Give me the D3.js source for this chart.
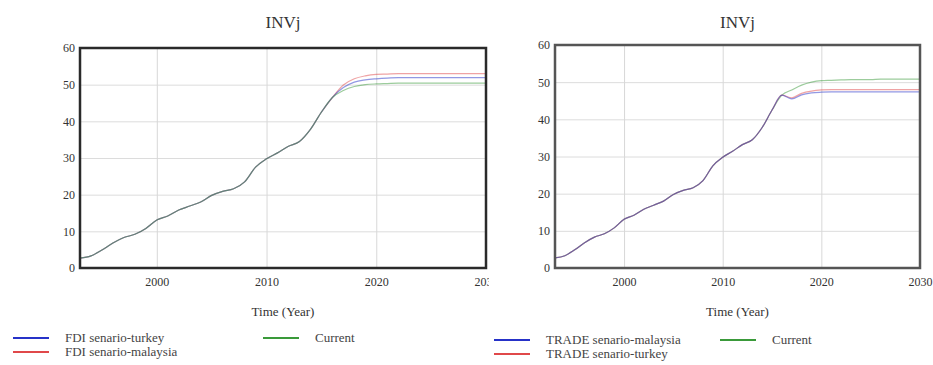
<!DOCTYPE html>
<html>
<head>
<meta charset="utf-8">
<script src="https://cdn.jsdelivr.net/npm/d3@7"></script>
<style>
  body { margin: 0; background: #fff; }
  text { font-family: "Liberation Serif", "DejaVu Serif", serif; fill: #333; }
</style>
</head>
<body>
<svg id="chart" width="933" height="365"></svg>
<script>
// years on the x axis, 1993 .. 2030
const years = [1993, 1994, 1995, 1996, 1997, 1998, 1999, 2000, 2001, 2002,
               2003, 2004, 2005, 2006, 2007, 2008, 2009, 2010, 2011, 2012,
               2013, 2014, 2015, 2016, 2017, 2018, 2019, 2020, 2021, 2022,
               2023, 2024, 2025, 2026, 2027, 2028, 2029, 2030];

// history part, shared by every run (1993 .. 2016)
const history = [2.7, 3.3, 4.9, 6.8, 8.3, 9.2, 10.8, 13.1, 14.2, 15.8,
                 16.9, 18.0, 19.8, 20.9, 21.6, 23.5, 27.5, 29.8, 31.4, 33.2,
                 34.5, 37.8, 42.5, 46.5];

// left panel runs, 2017 .. 2030
const fdiTurkey   = [49.2, 50.7, 51.3, 51.6, 51.8, 51.9, 51.9, 51.9, 51.9, 51.9, 51.9, 51.9, 51.9, 51.9];
const fdiMalaysia = [49.9, 51.6, 52.4, 52.8, 52.9, 53.0, 53.0, 53.0, 53.0, 53.0, 53.0, 53.0, 53.0, 53.0];
const fdiCurrent  = [48.4, 49.5, 50.0, 50.2, 50.3, 50.4, 50.4, 50.4, 50.4, 50.4, 50.4, 50.4, 50.4, 50.4];

// right panel runs, 2017 .. 2030
const tradeMalaysia = [45.5, 46.6, 47.1, 47.3, 47.4, 47.4, 47.4, 47.4, 47.4, 47.4, 47.4, 47.4, 47.4, 47.4];
const tradeTurkey   = [45.8, 47.0, 47.6, 47.9, 48.0, 48.0, 48.0, 48.0, 48.0, 48.0, 48.0, 48.0, 48.0, 48.0];
const tradeCurrent  = [47.9, 49.2, 50.0, 50.4, 50.5, 50.6, 50.7, 50.7, 50.7, 50.8, 50.8, 50.8, 50.8, 50.8];

const yTicks = [0, 10, 20, 30, 40, 50, 60];
const xTicks = [2000, 2010, 2020, 2030];

const serif = '"Liberation Serif", "DejaVu Serif", serif';
const svg = d3.select('#chart');

function drawPanel(p) {
  const g = svg.append('g');

  // panel background (the right picture sits on top of the left one)
  g.append('rect')
    .attr('x', p.bg[0]).attr('y', 0)
    .attr('width', p.bg[1] - p.bg[0]).attr('height', 365)
    .style('fill', '#fff');

  const x = d3.scaleLinear().domain([1993, 2030]).range([p.left, p.right]);
  const y = d3.scaleLinear().domain([0, 60]).range([p.bottom, p.top]);

  /************ grid ************/
  g.append('g')
    .attr('transform', `translate(${p.left}, 0)`)
    .call(d3.axisLeft(y).tickValues(yTicks).tickSize(-(p.right - p.left)).tickFormat(''))
    .call(a => a.select('.domain').remove())
    .selectAll('line').style('stroke', '#dcdcdc');

  g.append('g')
    .attr('transform', `translate(0, ${p.bottom})`)
    .call(d3.axisBottom(x).tickValues(xTicks.slice(0, 3)).tickSize(-(p.bottom - p.top)).tickFormat(''))
    .call(a => a.select('.domain').remove())
    .selectAll('line').style('stroke', '#d8d8d8');

  /************ tick labels ************/
  g.append('g')
    .attr('transform', `translate(${p.left}, 0)`)
    .call(d3.axisLeft(y).tickValues(yTicks).tickSize(0).tickPadding(5))
    .attr('font-family', serif)
    .attr('font-size', 12)
    .call(a => a.select('.domain').remove())
    .selectAll('text')
    .attr('fill', '#444');

  g.append('g')
    .attr('transform', `translate(0, ${p.bottom})`)
    .call(d3.axisBottom(x).tickValues(xTicks).tickSize(0).tickPadding(9).tickFormat(d3.format('d')))
    .attr('font-family', serif)
    .attr('font-size', 12)
    .call(a => a.select('.domain').remove())
    .selectAll('text')
    .attr('fill', '#444');

  /************ lines ************/
  const line = d3.line()
    .x((d, i) => x(years[i]))
    .y(d => y(d))
    .curve(d3.curveMonotoneX);

  p.series.forEach(s => {
    g.append('path')
      .datum(history.concat(s.values))
      .attr('d', line)
      .style('fill', 'none')
      .style('stroke', s.color)
      .style('stroke-width', 1.2)
      .style('stroke-opacity', 0.5);
  });

  /************ frame ************/
  g.append('rect')
    .attr('x', p.left).attr('y', p.top)
    .attr('width', p.right - p.left).attr('height', p.bottom - p.top)
    .style('fill', 'none')
    .style('stroke', p.frame)
    .style('stroke-width', 2.5);

  /************ titles ************/
  g.append('text')
    .attr('x', (p.left + p.right) / 2)
    .attr('y', 28)
    .attr('text-anchor', 'middle')
    .style('font-size', '17px')
    .text('INVj');

  g.append('text')
    .attr('x', (p.left + p.right) / 2)
    .attr('y', 316)
    .attr('text-anchor', 'middle')
    .style('font-size', '13px')
    .text('Time (Year)');

  /************ legend ************/
  p.legend.forEach(l => {
    g.append('line')
      .attr('x1', l.x).attr('x2', l.x + 36)
      .attr('y1', l.y).attr('y2', l.y)
      .style('stroke', l.color)
      .style('stroke-width', 2);
    g.append('text')
      .attr('x', l.x + 52)
      .attr('y', l.y + 4)
      .style('font-size', '13px')
      .style('fill', '#444')
      .text(l.label);
  });
}

const blue = '#2632c8';
const red = '#e0484a';
const green = '#3a9a3a';

drawPanel({
  bg: [0, 489],
  left: 80, right: 486, top: 48, bottom: 268,
  frame: '#2a2a2a',
  series: [
    { values: fdiMalaysia, color: red },
    { values: fdiTurkey, color: blue },
    { values: fdiCurrent, color: green }
  ],
  legend: [
    { label: 'FDI senario-turkey', color: blue, x: 13, y: 338 },
    { label: 'FDI senario-malaysia', color: red, x: 13, y: 352 },
    { label: 'Current', color: green, x: 263, y: 338 }
  ]
});

drawPanel({
  bg: [489, 933],
  left: 555, right: 920, top: 45, bottom: 268,
  frame: '#555',
  series: [
    { values: tradeCurrent, color: green },
    { values: tradeTurkey, color: red },
    { values: tradeMalaysia, color: blue }
  ],
  legend: [
    { label: 'TRADE senario-malaysia', color: blue, x: 494, y: 340 },
    { label: 'TRADE senario-turkey', color: red, x: 494, y: 354 },
    { label: 'Current', color: green, x: 720, y: 340 }
  ]
});
</script>
</body>
</html>
